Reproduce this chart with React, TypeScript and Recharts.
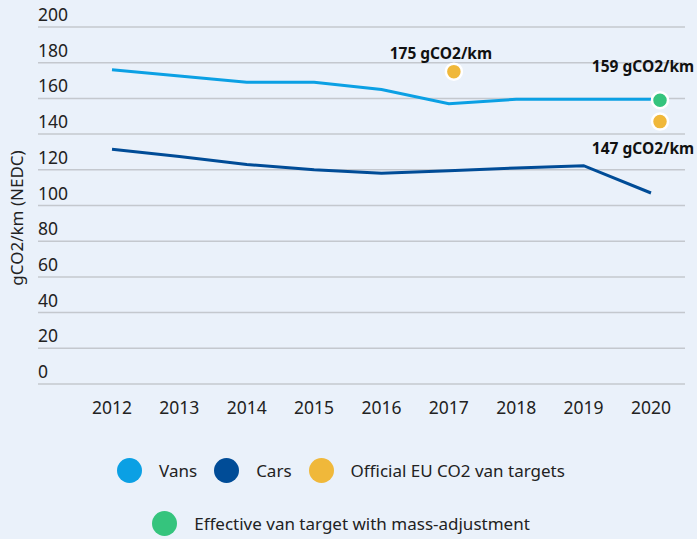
import React from 'react';
import { LineChart, Line, XAxis, YAxis, CartesianGrid, Legend } from 'recharts';

const years = ['2012', '2013', '2014', '2015', '2016', '2017', '2018', '2019', '2020'];
const vans = [176, 172.5, 169, 169, 165, 157, 159.5, 159.5, 159.5];
const cars = [131.5, 127.5, 123, 120, 118, 119.5, 121, 122.3, 107];
const officialTargets: (number | null)[] = [null, null, null, null, null, 175, null, null, 147];
const effectiveTargets: (number | null)[] = [null, null, null, null, null, null, null, null, 159];
const yTicks = [0, 20, 40, 60, 80, 100, 120, 140, 160, 180, 200];

const BG = '#EAF1FA';
const VANS = '#0BA0E4';
const CARS = '#004C97';
const YELLOW = '#F0B83A';
const GREEN = '#35C47D';
const FONT = '"Noto Sans", sans-serif';

const chartData = years.map((year, i) => ({
  year,
  vans: vans[i],
  cars: cars[i],
  official: officialTargets[i],
  effective: effectiveTargets[i],
}));

const legendItems = [
  [
    { name: 'Vans', color: VANS },
    { name: 'Cars', color: CARS },
    { name: 'Official EU CO2 van targets', color: YELLOW },
  ],
  [{ name: 'Effective van target with mass-adjustment', color: GREEN }],
];

// y tick text sits above its gridline, left aligned
function YTick({ y, payload }: any) {
  return (
    <text x={38} y={y - 6} textAnchor="start" fill="#222" fontSize={17.5} fontFamily={FONT}>
      {payload.value}
    </text>
  );
}

function YLabel() {
  return (
    <text
      transform="translate(18, 218) rotate(-90)"
      textAnchor="middle"
      dominantBaseline="middle"
      fill="#222"
      fontSize={17}
      fontFamily={FONT}
    >
      gCO2/km (NEDC)
    </text>
  );
}

function TargetDot(color: string) {
  return (props: any) => {
    const { cx, cy, payload, dataKey } = props;
    const v = payload[dataKey];
    if (v == null || cx == null || cy == null) return <g key={`${dataKey}-${payload.year}`} />;
    const last = payload.year === '2020';
    const above = v > 150;
    return (
      <g key={`${dataKey}-${payload.year}`}>
        <circle cx={cx + (last ? 9 : 5)} cy={cy} r={8} fill={color} stroke="#fff" strokeWidth={2.5} />
        <text
          x={cx - 8}
          y={above ? cy - (last ? 28 : 13) : cy + 32}
          textAnchor="middle"
          fontSize={15.5}
          fontWeight={700}
          fontFamily={FONT}
          fill="#111"
        >
          {`${v} gCO2/km`}
        </text>
      </g>
    );
  };
}

function LegendContent() {
  return (
    <div style={{ fontFamily: FONT, fontSize: 17, color: '#222', paddingTop: 33, paddingRight: 3 }}>
      {legendItems.map((row, r) => (
        <div
          key={r}
          style={{ display: 'flex', justifyContent: 'center', alignItems: 'center', height: 26, marginBottom: r === 0 ? 27 : 0 }}
        >
          {row.map((item, i) => (
            <div
              key={item.name}
              style={{ display: 'flex', alignItems: 'center', marginLeft: i === 0 ? 0 : 17 }}
            >
              <span
                style={{ width: 25, height: 25, borderRadius: '50%', background: item.color, display: 'inline-block', marginRight: 17 }}
              />
              <span>{item.name}</span>
            </div>
          ))}
        </div>
      ))}
    </div>
  );
}

export default function App() {
  return (
    <div style={{ position: 'absolute', left: 0, top: 0, width: 697, height: 539, background: BG }}>
      <LineChart width={697} height={539} data={chartData} margin={{ top: 27, right: 12, bottom: 0, left: 0 }}>
        <CartesianGrid vertical={false} stroke="#C4C8CE" strokeWidth={1.5} />
        <XAxis
          dataKey="year"
          axisLine={false}
          tickLine={false}
          padding={{ left: 74, right: 34 }}
          tick={{ fill: '#222', fontSize: 17.5, fontFamily: FONT }}
          tickMargin={12}
          height={40}
        />
        <YAxis
          domain={[0, 200]}
          ticks={yTicks}
          width={38}
          axisLine={false}
          tickLine={false}
          tick={<YTick />}
          label={<YLabel />}
        />
        <Legend verticalAlign="bottom" height={115} content={<LegendContent />} />
        <Line dataKey="vans" name="Vans" stroke={VANS} strokeWidth={3} dot={false} isAnimationActive={false} />
        <Line dataKey="cars" name="Cars" stroke={CARS} strokeWidth={3} dot={false} isAnimationActive={false} />
        <Line
          dataKey="official"
          name="Official EU CO2 van targets"
          stroke="none"
          dot={TargetDot(YELLOW)}
          activeDot={false}
          isAnimationActive={false}
        />
        <Line
          dataKey="effective"
          name="Effective van target with mass-adjustment"
          stroke="none"
          dot={TargetDot(GREEN)}
          activeDot={false}
          isAnimationActive={false}
        />
      </LineChart>
    </div>
  );
}
